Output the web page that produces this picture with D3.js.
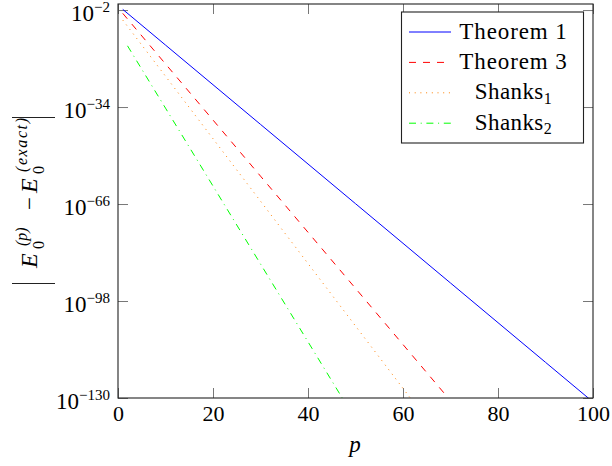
<!DOCTYPE html>
<html>
<head>
<meta charset="utf-8">
<script src="https://cdn.jsdelivr.net/npm/d3@7"></script>
<style>
  html, body { margin: 0; padding: 0; background: #fff; }
  svg { display: block; }
</style>
</head>
<body>
<div id="chart"></div>
<script>
// values (log-scale error vs p)
const pTheorem1 = [1, 10, 20, 30, 40, 50, 60, 70, 80, 90, 100];
const errTheorem1 = [1.7e-2, 2.8e-14, 2.3e-27, 1.9e-40, 1.6e-53, 1.3e-66, 1.1e-79, 8.7e-93, 7.2e-106, 5.9e-119, 4.9e-132];

const pTheorem3 = [1, 10, 20, 30, 40, 50, 60, 70];
const errTheorem3 = [8.1e-4, 1.7e-20, 5.2e-39, 1.6e-57, 4.8e-76, 1.5e-94, 4.4e-113, 1.3e-131];

const pShanks1 = [1, 10, 20, 30, 40, 50, 60, 62];
const errShanks1 = [5.0e-6, 1.5e-24, 3.6e-45, 9.1e-66, 2.3e-86, 5.8e-107, 1.5e-127, 1.1e-131];

const pShanks2 = [2, 10, 20, 30, 40, 48];
const errShanks2 = [1.6e-14, 4.4e-35, 8.7e-61, 1.7e-86, 3.5e-112, 9.5e-133];

const xTicks = [0, 20, 40, 60, 80, 100];
const yTicks = [1e-2, 1e-34, 1e-66, 1e-98, 1e-130];

const seriesNames = ["Theorem 1", "Theorem 3", "Shanks", "Shanks"];
const seriesSubs = [null, null, "1", "2"];

const W = 612, H = 466;
const plot = { left: 118, right: 593, top: 4, bottom: 398 };
const FONT = "'Liberation Serif', 'Times New Roman', Times, 'DejaVu Serif', serif";

const series = [
  { p: pTheorem1, v: errTheorem1, color: "#0000ff", dash: null },
  { p: pTheorem3, v: errTheorem3, color: "#ff0000", dash: "7,7" },
  { p: pShanks1, v: errShanks1, color: "#ff8000", dash: "1,4.7" },
  { p: pShanks2, v: errShanks2, color: "#00ff00", dash: "7,4.7,1,4.7" },
].map((s, i) => ({ ...s, name: seriesNames[i], sub: seriesSubs[i] }));

const svg = d3.select("#chart").append("svg")
  .attr("width", W).attr("height", H)
  .attr("viewBox", `0 0 ${W} ${H}`)
  .style("font-family", FONT);

const x = d3.scaleLinear().domain([0, 100]).range([plot.left, plot.right]);
const y = d3.scaleLog().domain([1e-130, 1]).range([plot.bottom, plot.top]);

svg.append("defs").append("clipPath").attr("id", "clip")
  .append("rect")
  .attr("x", plot.left).attr("y", plot.top)
  .attr("width", plot.right - plot.left).attr("height", plot.bottom - plot.top);

// axes, ticks inward on all four sides
const tickColor = "#777";

const gx = svg.append("g")
  .attr("transform", `translate(0,${plot.bottom})`)
  .call(d3.axisBottom(x).tickValues(xTicks).tickSizeInner(-10).tickSizeOuter(0).tickPadding(7.5));

const gxTop = svg.append("g")
  .attr("transform", `translate(0,${plot.top})`)
  .call(d3.axisTop(x).tickValues(xTicks).tickSizeInner(-10).tickSizeOuter(0).tickFormat(""));

const gy = svg.append("g")
  .attr("transform", `translate(${plot.left},0)`)
  .call(d3.axisLeft(y).tickValues(yTicks).tickSizeInner(-10).tickSizeOuter(0).tickPadding(8));

const gyRight = svg.append("g")
  .attr("transform", `translate(${plot.right},0)`)
  .call(d3.axisRight(y).tickValues(yTicks).tickSizeInner(-10).tickSizeOuter(0).tickFormat(""));

[gx, gxTop, gy, gyRight].forEach(g => {
  g.select(".domain").remove();
  g.attr("font-family", FONT).attr("font-size", null);
  g.selectAll(".tick line").attr("stroke", tickColor);
});

gx.selectAll(".tick text").style("font-size", "22px");

gy.selectAll(".tick text").each(function (d) {
  const t = d3.select(this);
  const e = Math.round(Math.log10(d));
  t.text(null).attr("dy", null).attr("y", 10.5).style("font-size", "23px");
  t.append("tspan").text("10");
  t.append("tspan").attr("dy", -9.5).style("font-size", "15px").text("\u2212" + Math.abs(e));
});

// lines
const line = d3.line()
  .x(d => x(d[0]))
  .y(d => y(d[1]));

svg.append("g").attr("clip-path", "url(#clip)")
  .selectAll("path")
  .data(series)
  .join("path")
  .attr("fill", "none")
  .attr("stroke", d => d.color)
  .attr("stroke-width", 1)
  .attr("stroke-dasharray", d => d.dash)
  .attr("d", d => line(d.p.map((p, i) => [p, d.v[i]])));

// frame
svg.append("rect")
  .attr("x", plot.left).attr("y", plot.top)
  .attr("width", plot.right - plot.left).attr("height", plot.bottom - plot.top)
  .attr("fill", "none")
  .attr("stroke", "#222")
  .attr("stroke-width", 1.1);

// x label
svg.append("text")
  .attr("x", (plot.left + plot.right) / 2 - 0.5)
  .attr("y", 452)
  .attr("text-anchor", "middle")
  .style("font-size", "23px")
  .style("font-style", "italic")
  .text("p");

// y label |E_0^(p) - E_0^(exact)|: delimiters are horizontal strokes on screen
svg.selectAll("line.delim")
  .data([117.5, 283.5])
  .join("line")
  .attr("class", "delim")
  .attr("x1", 12).attr("x2", 55)
  .attr("y1", d => d).attr("y2", d => d)
  .attr("stroke", "#222").attr("stroke-width", 1.1);

const yl = svg.append("g").attr("transform", "translate(37,200) rotate(-90)");
const parts = [
  { x: -68, y: 0, s: 24, it: true, t: "E" },
  { x: -49, y: 7, s: 16, it: false, t: "0" },
  { x: -46, y: -10, s: 16, it: true, t: "(p)" },
  { x: -10, y: 0, s: 23, it: false, t: "\u2212" },
  { x: 7, y: 0, s: 24, it: true, t: "E" },
  { x: 26, y: 7, s: 16, it: false, t: "0" },
  { x: 28, y: -10, s: 16, it: true, t: "(exact)", len: 54 },
];
parts.forEach(pt => {
  const t = yl.append("text")
    .attr("x", pt.x).attr("y", pt.y)
    .style("font-size", pt.s + "px")
    .style("font-style", pt.it ? "italic" : "normal")
    .text(pt.t);
  if (pt.len) t.attr("textLength", pt.len).attr("lengthAdjust", "spacing");
});

// legend
const lg = { x: 401.5, y: 12, w: 182, h: 131, row0: 20, rowH: 30.4 };
const legend = svg.append("g");
legend.append("rect")
  .attr("x", lg.x).attr("y", lg.y).attr("width", lg.w).attr("height", lg.h)
  .attr("fill", "#fff").attr("stroke", "#222").attr("stroke-width", 1.1);

const rows = legend.selectAll("g.row")
  .data(series)
  .join("g")
  .attr("class", "row")
  .attr("transform", (d, i) => `translate(0,${lg.y + lg.row0 + i * lg.rowH})`);

rows.append("line")
  .attr("x1", 409).attr("x2", 451)
  .attr("y1", 0).attr("y2", 0)
  .attr("stroke", d => d.color)
  .attr("stroke-width", 1)
  .attr("stroke-dasharray", d => d.dash);

const lt = rows.append("text")
  .attr("x", 513.5)
  .attr("y", 6.5)
  .attr("text-anchor", "middle")
  .style("font-size", "23px")
  .style("letter-spacing", d => d.sub ? "0.4px" : "0.9px")
  .text(d => d.name);
lt.filter(d => d.sub)
  .append("tspan")
  .attr("dy", 4.5)
  .style("font-size", "16px")
  .text(d => d.sub);
</script>
</body>
</html>
